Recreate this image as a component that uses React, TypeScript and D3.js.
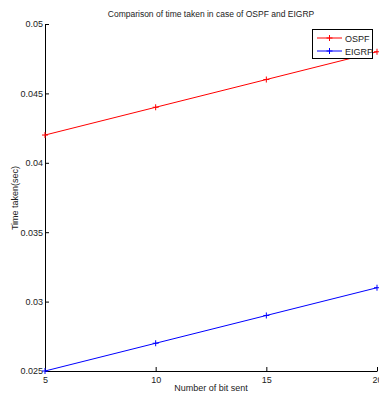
import * as d3 from 'd3';
import React, { useEffect, useRef } from 'react';

const bits = [5, 10, 15, 20];
const ospf = [0.042, 0.044, 0.046, 0.048];
const eigrp = [0.025, 0.027, 0.029, 0.031];
const yTicks = [0.025, 0.03, 0.035, 0.04, 0.045, 0.05];
const xTicks = [5, 10, 15, 20];

const W = 379;
const H = 396;
const font = 'Liberation Sans, Arial, sans-serif';

const App = () => {
  const svgRef = useRef<SVGSVGElement>(null);

  useEffect(() => {
    const svg = d3.select(svgRef.current);
    svg.selectAll('*').remove();

    const x = d3.scaleLinear().domain([5, 20]).range([45, 377]);
    const y = d3.scaleLinear().domain([0.025, 0.05]).range([371, 24]);

    // axes, MATLAB style ticks pointing inward
    const xAxis = d3
      .axisBottom(x)
      .tickValues(xTicks)
      .tickSize(-4)
      .tickSizeOuter(0)
      .tickFormat(d3.format('d'));
    const gx = svg.append('g').attr('transform', `translate(0,${y(0.025)})`).call(xAxis);
    gx.selectAll('text').attr('dy', '1.05em');

    const yAxis = d3
      .axisLeft(y)
      .tickValues(yTicks)
      .tickSize(-4)
      .tickSizeOuter(0)
      .tickFormat((d) => String(+(+d).toFixed(3)));
    const gy = svg.append('g').attr('transform', `translate(${x(5)},0)`).call(yAxis);
    gy.selectAll('text').attr('x', -2);

    svg.selectAll('.domain').attr('stroke', '#000').attr('stroke-width', 1);
    svg.selectAll('.tick line').attr('stroke', '#000');
    svg
      .selectAll('.tick text')
      .attr('font-family', font)
      .attr('font-size', 9)
      .attr('fill', '#222');

    const series = [
      { name: 'OSPF', values: ospf, color: '#ff0000' },
      { name: 'EIGRP', values: eigrp, color: '#0000ff' },
    ];

    const line = d3
      .line<number>()
      .x((d, i) => x(bits[i]))
      .y((d) => y(d));

    const plus = (g, cx, cy, color) => {
      g.append('line').attr('x1', cx - 3).attr('x2', cx + 3).attr('y1', cy).attr('y2', cy).attr('stroke', color);
      g.append('line').attr('x1', cx).attr('x2', cx).attr('y1', cy - 3).attr('y2', cy + 3).attr('stroke', color);
    };

    series.forEach((s) => {
      svg
        .append('path')
        .datum(s.values)
        .attr('d', line)
        .attr('fill', 'none')
        .attr('stroke', s.color)
        .attr('stroke-width', 1);
      const g = svg.append('g');
      s.values.forEach((v, i) => plus(g, x(bits[i]), y(v), s.color));
    });

    // title and labels
    svg
      .append('text')
      .attr('x', 211)
      .attr('y', 17)
      .attr('text-anchor', 'middle')
      .attr('font-family', font)
      .attr('font-size', 8.5)
      .attr('fill', '#222')
      .text('Comparison of time taken in case of OSPF and EIGRP');

    svg
      .append('text')
      .attr('x', 211)
      .attr('y', 391)
      .attr('text-anchor', 'middle')
      .attr('font-family', font)
      .attr('font-size', 9)
      .attr('fill', '#222')
      .text('Number of bit sent');

    svg
      .append('text')
      .attr('transform', `translate(18,${198}) rotate(-90)`)
      .attr('text-anchor', 'middle')
      .attr('font-family', font)
      .attr('font-size', 9)
      .attr('fill', '#222')
      .text('Time taken(sec)');

    // legend
    const lg = svg.append('g');
    lg.append('rect')
      .attr('x', 312.5)
      .attr('y', 29.5)
      .attr('width', 60)
      .attr('height', 29)
      .attr('fill', '#fff')
      .attr('stroke', '#000');
    series.forEach((s, i) => {
      const ly = 38 + i * 13;
      lg.append('line').attr('x1', 317).attr('x2', 342).attr('y1', ly).attr('y2', ly).attr('stroke', s.color);
      plus(lg, 329.5, ly, s.color);
      lg.append('text')
        .attr('x', 345)
        .attr('y', ly + 3.5)
        .attr('font-family', font)
        .attr('font-size', 9)
        .attr('fill', '#222')
        .text(s.name);
    });
  }, []);

  return (
    <svg
      ref={svgRef}
      width={W}
      height={H}
      style={{ position: 'absolute', left: 0, top: 0, background: '#fff' }}
    />
  );
};

export default App;
